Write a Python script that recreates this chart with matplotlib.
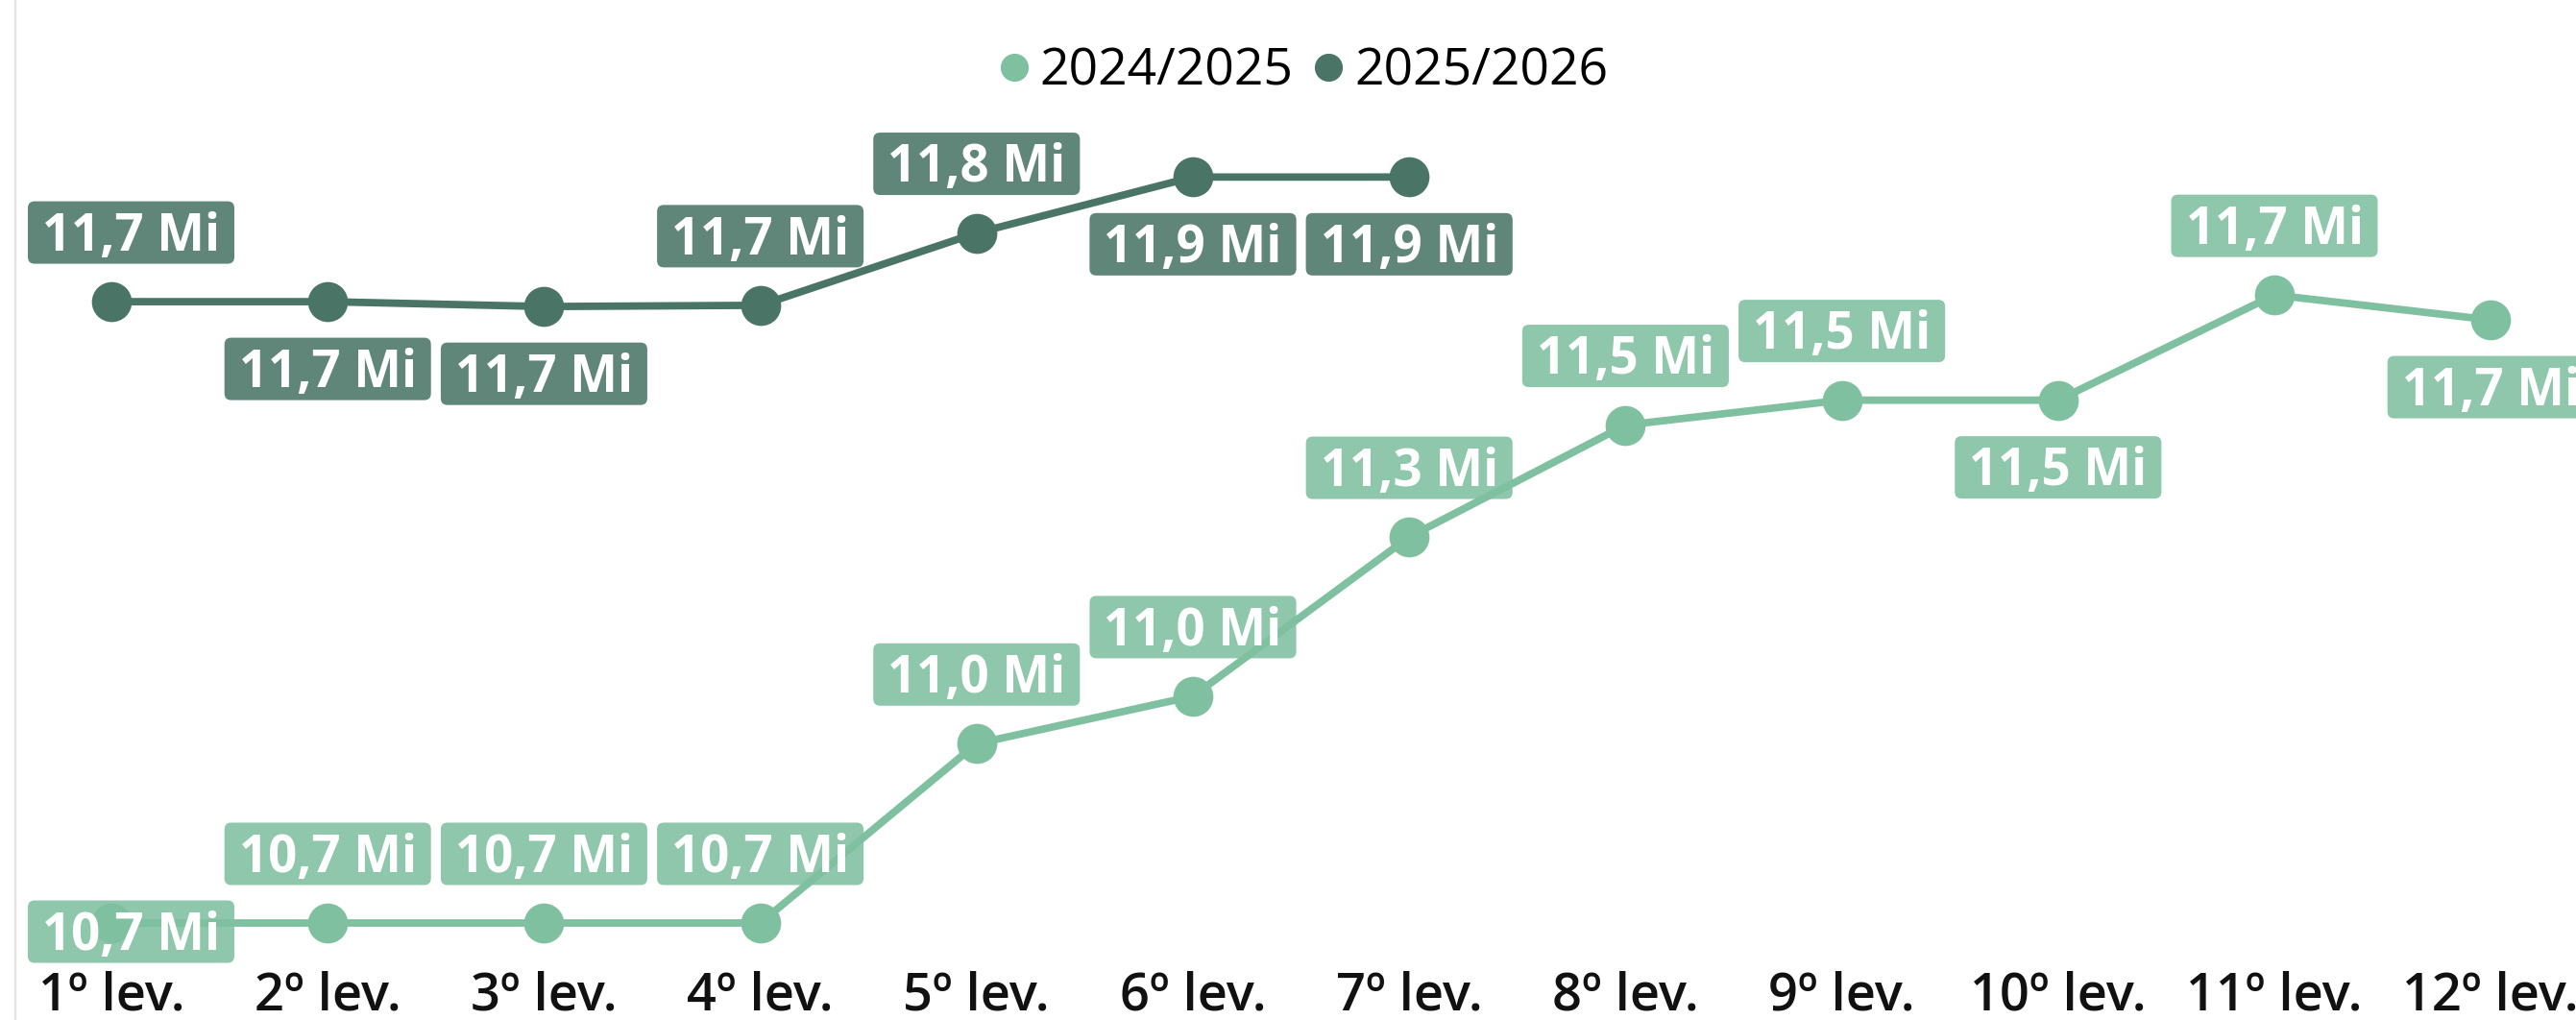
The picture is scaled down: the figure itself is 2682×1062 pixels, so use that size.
import matplotlib
matplotlib.use("Agg")
import matplotlib.pyplot as plt
from matplotlib.patches import FancyBboxPatch
from matplotlib.lines import Line2D
from matplotlib.transforms import IdentityTransform

plt.rcParams['font.family'] = ['Open Sans', 'Noto Sans', 'DejaVu Sans']

# ---------------- data ----------------
categories = ['1º lev.', '2º lev.', '3º lev.', '4º lev.', '5º lev.', '6º lev.',
              '7º lev.', '8º lev.', '9º lev.', '10º lev.', '11º lev.', '12º lev.']
series_names = ['2024/2025', '2025/2026']
values_2024_2025 = [10.668, 10.668, 10.668, 10.668, 10.963, 11.041,
                    11.303, 11.487, 11.528, 11.528, 11.701, 11.660]
values_2025_2026 = [11.690, 11.690, 11.682, 11.684, 11.803, 11.895, 11.895]

# ---------------- layout / style ----------------
W, H, DPI = 2682, 1062, 100
colors = ['#7FC0A1', '#4A7566']
label_alpha = 0.88
# label placement per point (layout only)
place_2024 = ['center', 'above', 'above', 'above', 'above', 'above',
              'above', 'above', 'above', 'below', 'above', 'below']
place_2025 = ['above', 'below', 'below', 'above', 'above', 'below', 'below']
offsets_px = {'above': 72, 'below': -70, 'center': -9}
label_fs = 38
tick_fs = 39
legend_fs = 38.5

fig = plt.figure(figsize=(W / DPI, H / DPI), dpi=DPI)
fig.patch.set_facecolor('white')

ax_bottom_px = 1005
ax = fig.add_axes([0, (H - ax_bottom_px) / H, 1, ax_bottom_px / H])
ax.set_facecolor('none')
for s in ax.spines.values():
    s.set_visible(False)

x_first_px, step_px = 116, 225.2
ax.set_xlim(-x_first_px / step_px, (W - x_first_px) / step_px)
ax.set_ylim(10.5985, 12.1862)

xs_all = list(range(len(categories)))
series = [values_2024_2025, values_2025_2026]
places = [place_2024, place_2025]

for vals, col, name in zip(series, colors, series_names):
    xs = xs_all[:len(vals)]
    ax.plot(xs, vals, color=col, lw=5.6, marker='o', markersize=30,
            markeredgewidth=0, solid_capstyle='round', label=name, zorder=3)

ax.set_xticks(xs_all)
ax.set_xticklabels(categories, fontsize=tick_fs, fontweight='semibold', color='#111111')
ax.tick_params(axis='x', length=0, pad=4)
ax.set_yticks([])

# legend
handles = [Line2D([], [], ls='none', marker='o', markersize=21,
                  markeredgewidth=0, color=c) for c in colors]
fig.legend(handles, series_names, loc='center', bbox_to_anchor=(0.506, 1 - 75 / H),
           ncol=2, frameon=False, fontsize=legend_fs, handlelength=0.6,
           handletextpad=0.2, columnspacing=0.38, borderpad=0)

# left border line
fig.add_artist(Line2D([16 / W, 16 / W], [0, 1], transform=fig.transFigure,
                      color='#E2E2E2', lw=1.6))

# data labels
fig.canvas.draw()
renderer = fig.canvas.get_renderer()
cap_px = 0.714 * label_fs * DPI / 72.0
box_h = 65
left_limit = 29
for vals, col, plc in zip(series, colors, places):
    for i, v in enumerate(vals):
        txt = f"{v:.1f}".replace('.', ',') + " Mi"
        px, py = ax.transData.transform((i, v))
        cy = py + offsets_px[plc[i]]
        t = fig.text(0, 0, txt, fontsize=label_fs, fontweight='bold', color='white',
                     ha='center', va='baseline', transform=IdentityTransform(), zorder=6)
        tw = t.get_window_extent(renderer).width
        bw = tw + 30
        cx = px
        if cx - bw / 2 < left_limit:
            cx = left_limit + bw / 2
        t.set_position((cx, cy - cap_px / 2))
        box = FancyBboxPatch((cx - bw / 2, cy - box_h / 2), bw, box_h,
                             boxstyle="round,pad=0,rounding_size=7",
                             transform=IdentityTransform(), facecolor=col,
                             alpha=label_alpha, edgecolor='none', zorder=5)
        fig.add_artist(box)

fig.savefig('out.png', dpi=DPI, facecolor='white')
